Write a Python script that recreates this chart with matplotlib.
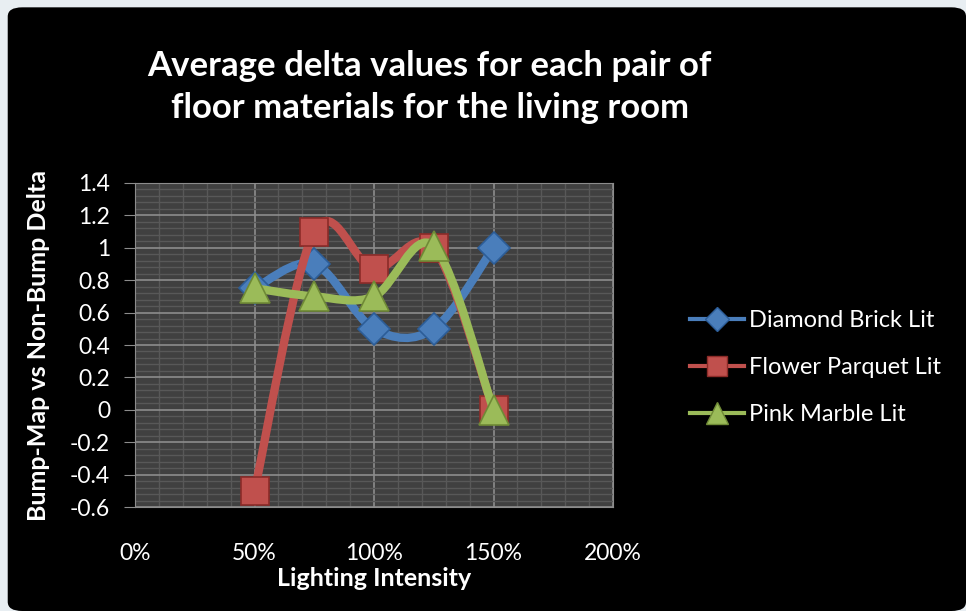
import numpy as np
import matplotlib.pyplot as plt
from matplotlib.path import Path
from matplotlib.patches import PathPatch, FancyBboxPatch
from matplotlib.ticker import MultipleLocator, PercentFormatter
from matplotlib.lines import Line2D

plt.rcParams['font.family'] = ['Lato', 'DejaVu Sans']

# data
intensity = [0.50, 0.75, 1.00, 1.25, 1.50]
diamond_brick = [0.75, 0.90, 0.50, 0.50, 1.00]
flower_parquet = [-0.50, 1.10, 0.87, 1.00, 0.00]
pink_marble = [0.75, 0.70, 0.70, 1.01, 0.00]
series_names = ['Diamond Brick Lit', 'Flower Parquet Lit', 'Pink Marble Lit']


def smooth_path(xs, ys):
    # excel style smoothed line: cubic bezier through the points
    p = np.column_stack([xs, ys]).astype(float)
    n = len(p)
    verts = [p[0]]
    codes = [Path.MOVETO]
    for i in range(n - 1):
        p0 = p[i - 1] if i > 0 else p[i]
        p3 = p[i + 2] if i + 2 < n else p[i + 1]
        c1 = p[i] + (p[i + 1] - p0) / 6.0
        c2 = p[i + 1] - (p3 - p[i]) / 6.0
        verts += [c1, c2, p[i + 1]]
        codes += [Path.CURVE4] * 3
    return Path(verts, codes)


def ytick(v, pos):
    if abs(v) < 1e-9:
        return '0'
    return '%g' % round(v, 1)


fig = plt.figure(figsize=(9.66, 6.11), dpi=100)
fig.patch.set_facecolor('#e8eef2')
bg = FancyBboxPatch((0.008, 0.0), 0.992, 0.988, boxstyle='round,pad=0,rounding_size=0.015',
                    transform=fig.transFigure, facecolor='black', edgecolor='none', zorder=-10)
fig.patches.append(bg)

ax = fig.add_axes([0.1398, 0.1702, 0.4948, 0.5303])
ax.set_facecolor('#404040')
ax.set_xlim(0, 2.0)
ax.set_ylim(-0.6, 1.4)
ax.xaxis.set_major_locator(MultipleLocator(0.5))
ax.xaxis.set_minor_locator(MultipleLocator(0.1))
ax.yaxis.set_major_locator(MultipleLocator(0.2))
ax.yaxis.set_minor_locator(MultipleLocator(0.04))
ax.xaxis.set_major_formatter(PercentFormatter(1.0, decimals=0))
ax.yaxis.set_major_formatter(ytick)
ax.grid(which='major', color='#8c8c8c', lw=1.2)
ax.grid(which='minor', color='#585858', lw=1.0)
ax.set_axisbelow(True)
for s in ax.spines.values():
    s.set_color('#8c8c8c')
ax.tick_params(axis='y', which='major', colors='#8c8c8c', labelcolor='white', labelsize=16.5, length=8, direction='out', pad=10)
ax.tick_params(axis='x', which='major', colors='#8c8c8c', labelcolor='white', labelsize=16.5, length=0, pad=26)
ax.tick_params(which='minor', length=0)

ax.set_xlabel('Lighting Intensity', color='white', fontsize=18, fontweight='bold', labelpad=2)
ax.set_ylabel('Bump-Map vs Non-Bump Delta', color='white', fontsize=18, fontweight='bold', labelpad=14)

styles = [
    (diamond_brick, '#4a7ebb', '#2c5d98', 'D', 16),
    (flower_parquet, '#c0504d', '#8c2b28', 's', 20),
    (pink_marble, '#9bbb59', '#6f8a36', '^', 21),
]
handles = []
for i, (vals, col, edge, mk, ms) in enumerate(styles):
    ax.add_patch(PathPatch(smooth_path(intensity, vals), facecolor='none', edgecolor=col,
                           lw=6, capstyle='round', joinstyle='round', zorder=3 + i * 2))
    ax.plot(intensity, vals, ls='none', marker=mk, ms=ms, mfc=col, mec=edge, mew=1.2, zorder=4 + i * 2)
    handles.append(Line2D([], [], color=col, lw=3, marker=mk, ms=ms * 0.75, mfc=col, mec=edge))

fig.legend(handles, series_names, loc='center left', bbox_to_anchor=(0.692, 0.398), frameon=False,
           labelcolor='white', fontsize=17, handlelength=2.3, handletextpad=0.2, labelspacing=1.1)

fig.text(0.445, 0.857, 'Average delta values for each pair of\nfloor materials for the living room',
         color='white', fontsize=25, fontweight='bold', ha='center', va='center', linespacing=1.38)

fig.savefig('out.png', dpi=100, facecolor=fig.get_facecolor())
